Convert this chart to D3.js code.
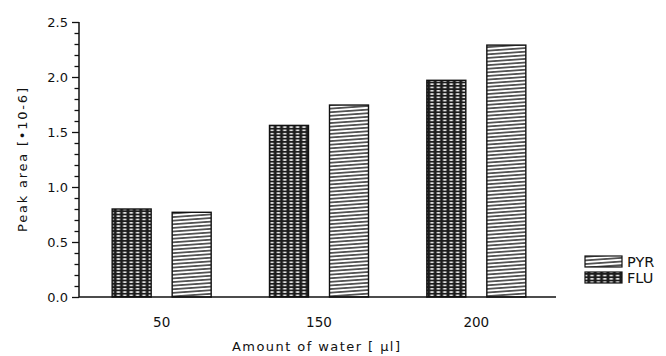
<!DOCTYPE html>
<html><head><meta charset="utf-8">
<script src="https://cdn.jsdelivr.net/npm/d3@7"></script>
<style>body{margin:0;background:#fff}svg{display:block}text{font-family:"DejaVu Sans",sans-serif;fill:#111}</style>
</head><body><svg id="c" width="666" height="356"></svg>
<script>
const categories = ["50", "150", "200"];
const series = ["FLU", "PYR"];
const fluValues = [0.80, 1.56, 1.97];
const pyrValues = [0.77, 1.745, 2.29];
const yTicks = [0, 0.5, 1.0, 1.5, 2.0, 2.5];
const yLabel = "Peak area [\u202210-6]";
const xLabel = "Amount of water [ \u03bcl]";

const svg = d3.select("#c");
const defs = svg.append("defs");
// FLU pattern
const pf = defs.append("pattern").attr("id","pFLU").attr("patternUnits","userSpaceOnUse")
  .attr("width",6.4).attr("height",3.3);
pf.append("rect").attr("width",6.4).attr("height",3.3).attr("fill","#1c1c1c");
pf.append("ellipse").attr("cx",3.2).attr("cy",1.65).attr("rx",2.1).attr("ry",0.85).attr("fill","#f4f4f4");
// PYR pattern
const pp = defs.append("pattern").attr("id","pPYR").attr("patternUnits","userSpaceOnUse")
  .attr("width",12).attr("height",3.6).attr("patternTransform","rotate(-4)");
pp.append("rect").attr("width",12).attr("height",3.6).attr("fill","#fff");
pp.append("line").attr("x1",0).attr("x2",12).attr("y1",1.8).attr("y2",1.8).attr("stroke","#111").attr("stroke-width",1.3);

const fill = {FLU:"url(#pFLU)", PYR:"url(#pPYR)"};
const vals = {FLU: fluValues, PYR: pyrValues};

const x0 = d3.scaleBand().domain(categories).range([83,555]).paddingInner(0).paddingOuter(0);
const x1 = d3.scaleBand().domain(series).range([0,x0.bandwidth()]).paddingInner(0.35).paddingOuter(0.486);
const y = d3.scaleLinear().domain([0,2.5]).range([297,22]);

// bars
categories.forEach((c,i)=>{
  series.forEach(s=>{
    svg.append("rect")
      .attr("x", x0(c)+x1(s)).attr("width", x1.bandwidth())
      .attr("y", y(vals[s][i])).attr("height", y(0)-y(vals[s][i]))
      .attr("fill", fill[s]).attr("stroke","#111").attr("stroke-width",1.4);
  });
});

// y axis
const axisX = 79;
const gy = svg.append("g").attr("transform",`translate(${axisX},0)`);
gy.append("line").attr("x1",0).attr("x2",0).attr("y1",y(2.5)).attr("y2",y(0)).attr("stroke","#111").attr("stroke-width",1.5);
const minor = d3.range(0,26).map(d=>d/10);
gy.selectAll("line.mn").data(minor).join("line").attr("class","mn")
  .attr("x1",d=>Math.round(d*10)%5===0?-7:-4.5).attr("x2",0)
  .attr("y1",d=>Math.round(y(d))+0.5).attr("y2",d=>Math.round(y(d))+0.5).attr("stroke","#111").attr("stroke-width",1.3);
gy.selectAll("text.tl").data(yTicks).join("text").attr("class","tl")
  .attr("x",-11).attr("y",d=>y(d)).attr("dy","0.36em").attr("text-anchor","end")
  .attr("font-size",13).text(d=>d3.format(".1f")(d));

// x axis
svg.append("line").attr("x1",axisX).attr("x2",556).attr("y1",y(0)).attr("y2",y(0)).attr("stroke","#111").attr("stroke-width",1.5);
svg.selectAll("text.xt").data(categories).join("text").attr("class","xt")
  .attr("x",d=>x0(d)+x0.bandwidth()/2).attr("y",327).attr("text-anchor","middle")
  .attr("font-size",13.5).text(d=>d);

svg.append("text").attr("x",316).attr("y",351).attr("text-anchor","middle")
  .attr("font-size",13).attr("textLength",168).attr("lengthAdjust","spacing").text(xLabel);
svg.append("text").attr("transform","translate(27,160) rotate(-90)").attr("text-anchor","middle")
  .attr("font-size",13).attr("textLength",144).attr("lengthAdjust","spacing").text(yLabel);

// legend
const legend = [{s:"PYR",y:256},{s:"FLU",y:272}];
legend.forEach(l=>{
  svg.append("rect").attr("x",585).attr("y",l.y).attr("width",37).attr("height",11)
    .attr("fill",fill[l.s]).attr("stroke","#111").attr("stroke-width",1.2);
  svg.append("text").attr("x",627).attr("y",l.y+11).attr("font-size",14.5).text(l.s);
});
</script></body></html>
